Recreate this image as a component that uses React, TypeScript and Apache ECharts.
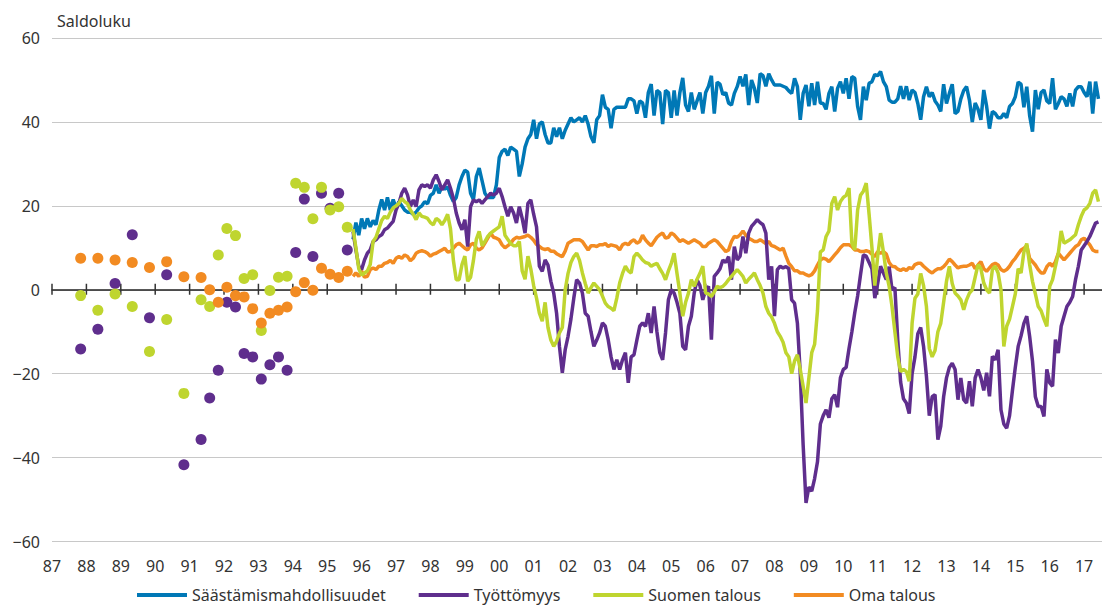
import React, { useEffect, useRef } from "react";
import * as echarts from "echarts";

// ---- Data ----
const yearLabels = [
  "87", "88", "89", "90", "91", "92", "93", "94", "95", "96", "97", "98", "99",
  "00", "01", "02", "03", "04", "05", "06", "07", "08", "09", "10", "11", "12",
  "13", "14", "15", "16", "17",
];

const seriesNames = ["Säästämismahdollisuudet", "Työttömyys", "Suomen talous", "Oma talous"];
const seriesColors = ["#0078b6", "#5f2e8d", "#bfd52f", "#f28b22"];

// Early surveys (half-yearly / quarterly), plotted as dots
const surveyMonths = [
  "1987-11", "1988-05", "1988-11", "1989-05", "1989-11", "1990-05", "1990-11",
  "1991-05", "1991-08", "1991-11", "1992-02", "1992-05", "1992-08", "1992-11",
  "1993-02", "1993-05", "1993-08", "1993-11", "1994-02", "1994-05", "1994-08",
  "1994-11", "1995-02", "1995-05", "1995-08",
];
const tyottomyysDots = [
  -14.1, -9.4, 1.5, 13.1, -6.7, 3.6, -41.7, -35.7, -25.8, -19.2, -3.0, -4.1, -15.2,
  -16.0, -21.3, -17.9, -16.0, -19.2, 8.9, 21.6, 7.9, 23.0, 19.4, 23.0, 9.5,
];
const suomenTalousDots = [
  -1.4, -4.9, -1.0, -4.0, -14.7, -7.1, -24.7, -2.4, -4.0, 8.3, 14.6, 12.9, 2.7,
  3.6, -9.7, -0.2, 3.0, 3.2, 25.4, 24.4, 16.9, 24.4, 19.0, 19.8, 14.9,
];
const omaTalousDots = [
  7.5, 7.5, 7.1, 6.5, 5.3, 6.7, 3.1, 2.9, 0.0, -3.0, 0.6, -1.4, -1.7, -4.5, -7.9,
  -5.6, -4.9, -4.1, -0.5, 1.7, -0.1, 5.1, 3.7, 2.9, 4.4,
];

// Monthly surveys from October 1995 onwards
const monthlyStart = "1995-10";
const saastamismahdollisuudet = [
  12, 16, 13,
  17, 14.5, 17, 15, 16.5, 15.5, 19, 21.5, 19, 22, 19, 21.5,
  19.5, 21, 20, 19, 18.5, 18.5, 18, 18.5, 19.5, 20, 21, 20.5,
  22.5, 23, 25, 23, 24.5, 24, 24.5, 22.5, 21, 22, 25, 27,
  28.5, 28, 23, 21.5, 27, 29, 26, 23, 22, 22, 22, 25,
  31.5, 33, 33.5, 32, 34, 33.5, 33, 27, 30, 34, 36, 37,
  40.5, 36, 39.5, 40, 37, 35, 35, 38.6, 36.5, 38.6, 36, 38,
  39.5, 41, 40, 40.5, 41, 40, 41.5, 39.5, 36.5, 35, 40.5, 41.5,
  46.5, 43.5, 43, 38.5, 43, 43.5, 43.5, 43.5, 43.5, 45.5, 45.5, 45,
  42, 45, 44.5, 41, 47, 49, 41.5, 47.5, 47, 39.5, 47.5, 47,
  41, 47.5, 41.5, 47, 50.5, 44, 42.5, 47, 43, 45, 47, 42,
  47, 48.5, 51, 42, 49.5, 49, 46.5, 47, 44.5, 44, 46.8, 48.4,
  50.8, 48.5, 51.3, 44, 50, 48, 44.5, 51.5, 51, 48.5, 51.5, 50,
  48.8, 48.8, 48.8, 48.5, 48.2, 47.4, 46.8, 50.4, 48.4, 40.5, 46.8, 48.8,
  43.7, 49.2, 44, 49.6, 44.5, 44.4, 43, 46.8, 48.4, 42.5, 48, 49.6,
  46.8, 50.4, 45.5, 50.8, 50.4, 43.7, 40.5, 48.4, 45.2, 49.2, 49.6, 51.3,
  51, 52, 49.6, 48.4, 45.2, 44.7, 44.7, 45.5, 48.5, 45.5, 48.5, 45.2,
  47.6, 47, 44.4, 40.5, 46, 48.4, 46, 47, 45, 44, 42.5, 49,
  44.4, 46.8, 49, 42, 42.5, 45.5, 47.5, 48.4, 45.2, 40, 44.5, 43,
  40.5, 47.6, 43.7, 38.4, 42.5, 42, 41, 41, 42, 41, 43.7, 44.4,
  46, 49.5, 49, 43.5, 48.4, 41.5, 37.7, 47.6, 43, 47, 47.6, 45,
  44.4, 50.4, 43, 44.4, 46, 45.5, 43.7, 46.8, 43.7, 47.6, 48.4, 48.4,
  47, 46, 49.6, 42, 49.6, 45.5,
];
const tyottomyys = [
  13.9, 9.5, 5.6,
  4.8, 7.1, 8.7, 9.5, 11.5, 11.9, 12.7, 13.1, 14.3, 14.7, 15.5, 16.3,
  19, 20.6, 23, 24.2, 22.6, 19.8, 21.4, 19.8, 23.8, 25, 24.6, 25,
  24.2, 26.2, 27.4, 25.8, 23.8, 25, 26.2, 24.2, 21.8, 18.3, 15.9, 14.3,
  16.7, 10.3, 19.8, 21.4, 21, 21.4, 20.6, 21.4, 22.2, 23, 22.6, 23,
  24.2, 22.2, 19.8, 17.5, 19.8, 18.3, 15.9, 19.8, 17, 13.5, 20.6, 21.4,
  18, 15, 5.6, 4.4, 7.1, 5.9, 2, -0.8, -5.6, -13.5, -19.8, -14.3,
  -11.1, -7, -2, 2.4, 1.6, -0.8, -5.6, -6.3, -10, -13.5, -12, -10.3,
  -7.9, -8.7, -11.9, -16, -19, -16.7, -19, -16.7, -15, -22.2, -16, -15.5,
  -12, -8.7, -7.9, -8.7, -5.6, -10.3, -4, -10, -15, -16.7, -10.3, -2.4,
  0, -0.8, -3, -5.6, -13.5, -14.3, -8.7, -6.3, -0.8, 2.4, 1, -2.4,
  0, 0.8, -11.9, 3.2, 4, 5, 7.1, 6.5, 7.9, 2.4, 10.3, 7.1,
  8, 12.7, 8.7, 13.5, 15.1, 15.9, 16.7, 16, 15.5, 13.5, 2.4, 5.6,
  -6.3, 4.8, 5.6, 5.2, 5.5, 5, -2.4, -3.2, -8, -20, -37, -50.8,
  -47, -48, -45, -41, -32, -30, -28.6, -30.5, -26, -25, -28, -21,
  -19, -18.5, -14, -10, -5.5, -1.5, 3.5, 8.3, 8, 6.5, 5, -2,
  1.5, 5.6, 4, 2.4, 5.5, 0, 0.5, -12, -22, -26, -27, -29.5,
  -20, -16, -10.5, -9, -13.5, -20.6, -30, -25.5, -25, -35.7, -32.5, -25.5,
  -21, -18.5, -17.5, -19, -26.2, -21, -26.2, -27, -21.8, -27.8, -21, -19,
  -21, -24, -19.8, -25.4, -15.9, -16.7, -14.3, -28.6, -32, -33, -30, -24,
  -18.5, -13.5, -11, -8, -6.3, -11.1, -17, -25.5, -27.8, -27.8, -30.2, -19,
  -22.2, -23, -11.9, -15.1, -8.7, -6.3, -4, -3, -1.6, 2.4, 5.6, 9.5,
  10.5, 11.5, 12.7, 14.3, 15.9, 16.2,
];
const suomenTalous = [
  14.5, 10, 5,
  3.5, 4, 4.5, 6, 11.5, 12.5, 14.5, 16.5, 17.5, 17, 18.5, 19.5,
  20, 20.6, 21.8, 21, 20.5, 19, 18, 16.7, 18.3, 17.5, 17.3, 17,
  16, 15.5, 17, 16.5, 15.5, 16.5, 18, 14.5, 7, 2.4, 2.4, 6,
  8, 2, 3, 7, 12, 13.9, 10.5, 11.5, 12.7, 13.5, 14, 14.5,
  15, 17.5, 13, 12, 11, 10.5, 10.5, 11.5, 4.5, 2.5, 8, 5,
  1, -2, -5.6, -7.5, -3, -9, -12, -13.5, -12.3, -10.3, -9, 0,
  3.9, 6.5, 7.9, 8.7, 7, 4, 1.5, -0.8, 0.5, 1.6, 0.8, 0,
  -1.5, -3.2, -4, -4.4, -5, -2, 1.6, 3.9, 5.6, 4.5, 4, 7.9,
  8.7, 8, 7.1, 6.5, 6.3, 5.6, 6, 6.3, 5, 3.9, 2.4, 4.5,
  6.3, 8.7, 3.9, -0.8, -6.3, -3, -0.8, 2.4, 0.8, 2.5, 3.9, 5.6,
  -0.8, -1, -1.6, -0.5, 0.8, 0.5, 0.8, 1.5, 2.4, 3.2, 4, 4.8,
  4, 3.2, 1.6, 2.5, 3.2, 4, 2.4, 1, -0.8, -4, -5.6, -6.5,
  -8, -10, -11.1, -12.5, -15, -16, -20, -17, -15.5, -19, -23, -27,
  -21, -15, -13, -5, 9, 9.5, 12.7, 14, 20.6, 22.2, 19, 21,
  22, 22.5, 24.2, 11.1, 9.5, 19, 22.5, 23.5, 25.4, 18, 10, 1,
  8, 13.5, 9, 4, 0.8, -4, -10, -16, -19.5, -19, -19.5, -21.8,
  -8, -2, -1, 3.9, 1, -4, -14, -16, -14.5, -10, -8, -3,
  2, 5.6, 1.5, -0.8, -1.5, -2.4, -4.8, -2.4, -0.8, 0, 3, 6,
  5, 1.6, 0, -0.8, 4.8, 5.6, 4, 0, -13.5, -8.7, -7, -4,
  -1, 5, 4, 9, 11, 6, 2, -1, -4, -5, -7, -8.7,
  0.8, 2.4, 5.6, 8.7, 14, 11.1, 11.5, 11.9, 12.5, 13.1, 15.5, 17.5,
  19, 19.5, 20.6, 23, 23.8, 21,
];
const omaTalous = [
  3.2, 4, 3.2,
  4.5, 3, 3.2, 4.8, 5.2, 4.8, 5.6, 5.6, 6.3, 6.5, 7, 6.3,
  7.5, 7.9, 7.5, 8.3, 7.9, 6.9, 7.5, 8.7, 9.1, 9.3, 9.1, 8.7,
  8, 8.5, 8.7, 9.1, 9.5, 9.9, 9, 9.1, 9.9, 10.7, 11.1, 10.5,
  9.9, 9.5, 10.7, 11.1, 9.9, 9.5, 10, 11.1, 12.3, 13.5, 12.5, 12.3,
  11.9, 10.7, 10, 10.5, 11.1, 12, 12.5, 12.3, 12.5, 12.7, 13, 12.5,
  11.8, 10.8, 10.3, 9.8, 9.6, 9.8, 9.2, 9.2, 8.6, 8.2, 7.9, 9.2,
  11.1, 11.5, 11.9, 11.9, 11.9, 11.5, 10.5, 9.5, 10.5, 10.5, 10.3, 10.7,
  10.7, 11, 10.3, 10.7, 10.5, 10.3, 9.5, 10.7, 11.1, 10.7, 11.5, 11.9,
  11.1, 11.5, 13, 11.9, 11.1, 10.5, 11.5, 12.5, 13.1, 13.5, 12.3, 12.5,
  13.5, 13.1, 12.3, 11.5, 11.9, 11.5, 11.1, 11.5, 11.9, 11.5, 11.1, 10.3,
  10.3, 11.1, 11.5, 11.9, 11.5, 10.7, 9.9, 9.1, 9.5, 11.5, 12.7, 12.5,
  13.1, 14, 13, 12.3, 11.9, 11.5, 11.5, 11.9, 11.5, 11, 11.5, 10.5,
  10.3, 9.9, 9.5, 9.9, 8, 6.3, 5.5, 4.5, 4.5, 4, 4, 3.6,
  3.3, 3.6, 4.5, 5.9, 7.1, 7.5, 7.3, 6.7, 7.5, 8.3, 9.1, 10,
  10.7, 10.7, 10.7, 10.3, 9.5, 9.5, 9.1, 9.1, 9.3, 9.1, 8.5, 7.9,
  9.1, 8.7, 9.1, 8.5, 6.5, 5.6, 5.5, 4.9, 4.6, 5, 4.6, 5.3,
  5, 6, 6.3, 6.3, 5.6, 5, 4.4, 4, 4.6, 5, 5, 5.5,
  6.3, 7.3, 6.7, 5.9, 5.2, 5.5, 5.6, 5.6, 5.9, 6.3, 5, 5.9,
  6.7, 5, 4.4, 5.2, 6, 6.3, 5.9, 4.8, 4.4, 4.8, 5.6, 6.7,
  7.5, 8.5, 9.5, 9.9, 10.5, 7.5, 6.7, 5.9, 4.8, 4, 4, 5.5,
  6.3, 5.6, 6.7, 8.7, 7.9, 7.1, 7.9, 8.7, 9.5, 10.3, 10.7, 11.9,
  12.3, 11.5, 10.7, 9.5, 9.1, 9.1,
];

const yTicks = { min: -60, max: 60, interval: 20 };
const xStartYear = 1987;
const xEndYear = 2017.52;

// ---- Helpers ----
const monthToYear = (s: string) => {
  const [y, m] = s.split("-").map(Number);
  return y + (m - 1) / 12;
};
const monthlyPairs = (values: number[]) => {
  const start = monthToYear(monthlyStart);
  return values.map((v, i) => [start + i / 12, v]);
};
const dotPairs = (values: number[]) => values.map((v, i) => [monthToYear(surveyMonths[i]), v]);

const FONT = "'Noto Sans', 'Open Sans', sans-serif";
const TEXT = "#333333";
const FS = 16;

export default function App() {
  const ref = useRef<HTMLDivElement>(null);

  useEffect(() => {
    document.body.style.margin = "0";
    if (!ref.current) return;
    const chart = echarts.init(ref.current, undefined, { renderer: "svg" });

    const tickYears = yearLabels.map((_, i) => [xStartYear + i, 0]);

    const lineSeries = (idx: number, data: number[]) => ({
      type: "line",
      name: seriesNames[idx],
      data: monthlyPairs(data),
      color: seriesColors[idx],
      showSymbol: false,
      symbol: "none",
      lineStyle: { width: 3.5, color: seriesColors[idx] },
      emphasis: { disabled: true },
      z: 3,
    });
    const dotSeries = (idx: number, data: number[]) => ({
      type: "scatter",
      name: seriesNames[idx],
      data: dotPairs(data),
      color: seriesColors[idx],
      symbolSize: 11,
      itemStyle: { color: seriesColors[idx], opacity: 1 },
      emphasis: { disabled: true },
      z: 3,
    });

    const xBase = {
      type: "value",
      min: xStartYear,
      max: xEndYear,
      interval: 1,
      splitLine: { show: false },
    };

    chart.setOption({
      animation: false,
      textStyle: { fontFamily: FONT },
      title: {
        text: "Saldoluku",
        left: 57,
        top: 13,
        padding: 0,
        textStyle: { fontSize: FS, fontWeight: "normal", color: TEXT, fontFamily: FONT },
      },
      grid: { left: 52, right: 0, top: 38, bottom: 67.5, containLabel: false },
      legend: {
        data: seriesNames,
        left: 137,
        top: 586,
        padding: 0,
        icon: "rect",
        itemWidth: 50,
        itemHeight: 4,
        itemGap: 33,
        textStyle: { fontSize: FS, lineHeight: 18, color: TEXT, fontFamily: FONT },
        selectedMode: false,
      },
      xAxis: [
        {
          ...xBase,
          position: "bottom",
          axisLine: { show: false, onZero: false },
          axisTick: { show: false },
          axisLabel: {
            show: true,
            margin: 16,
            fontSize: FS,
            color: TEXT,
            fontFamily: FONT,
            showMaxLabel: false,
            formatter: (v: number) => {
              const i = Math.round(v - xStartYear);
              if (Math.abs(v - xStartYear - i) > 1e-6) return "";
              return yearLabels[i] ?? "";
            },
          },
        },
        {
          ...xBase,
          position: "bottom",
          axisLine: { show: true, onZero: true, onZeroAxisIndex: 0, lineStyle: { color: "#222", width: 1.5 } },
          axisTick: { show: false },
          axisLabel: { show: false },
        },
      ],
      yAxis: {
        type: "value",
        min: yTicks.min,
        max: yTicks.max,
        interval: yTicks.interval,
        axisLine: { show: false },
        axisTick: { show: false },
        splitLine: { show: true, lineStyle: { color: "#c8c8c8", width: 1.2 } },
        axisLabel: {
          margin: 12,
          fontSize: FS,
          color: TEXT,
          fontFamily: FONT,
          formatter: (v: number) => (v < 0 ? "\u2212" + Math.abs(v) : String(v)),
        },
      },
      series: [
        {
          type: "custom",
          name: "ticks",
          silent: true,
          z: 1,
          data: tickYears,
          renderItem: (_params: any, api: any) => {
            const p = api.coord([api.value(0), 0]);
            return {
              type: "line",
              shape: { x1: p[0], y1: p[1] - 6, x2: p[0], y2: p[1] + 5 },
              style: { stroke: "#333", lineWidth: 1.5 },
            };
          },
        },
        lineSeries(3, omaTalous),
        lineSeries(0, saastamismahdollisuudet),
        lineSeries(1, tyottomyys),
        lineSeries(2, suomenTalous),
        dotSeries(1, tyottomyysDots),
        dotSeries(2, suomenTalousDots),
        dotSeries(3, omaTalousDots),
      ],
    } as any);

    return () => chart.dispose();
  }, []);

  return (
    <div
      ref={ref}
      style={{ position: "absolute", left: 0, top: 0, width: 1102, height: 609 }}
    />
  );
}
